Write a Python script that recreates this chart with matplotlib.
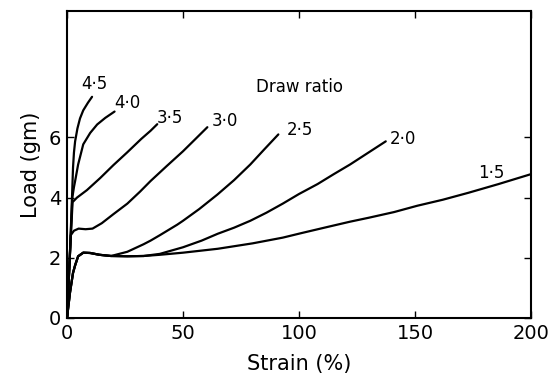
import matplotlib
matplotlib.use('Agg')
import matplotlib.pyplot as plt

# strain (%) and load (gm), one pair per draw ratio
x15 = [0, 1.3, 2.6, 3.5, 4.8, 7, 10, 14, 19, 26, 33, 40, 50, 65, 80, 93, 101, 112, 122, 130, 141, 151, 162, 173, 186, 200]
y15 = [0, 0.85, 1.5, 1.75, 2.05, 2.17, 2.16, 2.1, 2.06, 2.05, 2.06, 2.1, 2.17, 2.3, 2.48, 2.67, 2.82, 3.02, 3.2, 3.33, 3.52, 3.73, 3.93, 4.16, 4.45, 4.78]

x20 = [0, 1.3, 2.6, 3.5, 4.8, 7, 10, 14, 19, 26, 33, 40, 50, 58, 65, 72, 79, 86, 93, 100, 108, 115, 122, 130, 137.4]
y20 = [0, 0.85, 1.5, 1.75, 2.05, 2.17, 2.16, 2.1, 2.06, 2.05, 2.06, 2.13, 2.35, 2.57, 2.8, 3.0, 3.23, 3.5, 3.8, 4.12, 4.45, 4.78, 5.1, 5.5, 5.87]

x25 = [0, 1.3, 2.6, 3.5, 4.8, 7, 10, 14, 19, 26, 33, 36, 40, 47.5, 50, 57, 64.8, 72, 79, 85, 91.1]
y25 = [0, 0.85, 1.5, 1.75, 2.05, 2.17, 2.16, 2.1, 2.06, 2.2, 2.45, 2.57, 2.75, 3.1, 3.23, 3.62, 4.1, 4.58, 5.1, 5.6, 6.1]

x30 = [0, 1.0, 1.6, 3, 5, 8, 11, 15, 20, 26, 31.5, 36, 43, 50, 55, 60.5]
y30 = [0, 1.7, 2.75, 2.9, 2.97, 2.95, 2.97, 3.15, 3.45, 3.8, 4.2, 4.55, 5.05, 5.54, 5.92, 6.34]

x35 = [0, 1.2, 2.4, 4.3, 8.6, 14.3, 20, 25.9, 32, 36, 38.9]
y35 = [0, 2.0, 3.85, 4.0, 4.25, 4.65, 5.08, 5.5, 5.95, 6.22, 6.44]

x40 = [0, 1.2, 2.3, 3.0, 3.5, 4.8, 7, 10, 13, 16.5, 20.5]
y40 = [0, 2.0, 4.0, 4.35, 4.55, 5.1, 5.77, 6.15, 6.43, 6.65, 6.86]

x45 = [0, 1.2, 2.2, 2.6, 3.0, 3.5, 4.5, 5.6, 7, 9, 10.8]
y45 = [0, 2.0, 4.1, 5.0, 5.5, 5.87, 6.3, 6.63, 6.9, 7.15, 7.35]

ratio_labels = ['1·5', '2·0', '2·5', '3·0', '3·5', '4·0', '4·5']
label_x = [183, 144.7, 100.2, 68.2, 44.5, 25.9, 11.7]
label_y = [4.82, 5.94, 6.24, 6.53, 6.63, 7.13, 7.76]

xticks = [0, 50, 100, 150, 200]
yticks = [0, 2, 4, 6]

fig = plt.figure(figsize=(5.56, 3.81), dpi=100)
ax = fig.add_axes([0.1205, 0.1654, 0.8345, 0.8056])

curves = [(x15, y15), (x20, y20), (x25, y25), (x30, y30), (x35, y35), (x40, y40), (x45, y45)]
for xs, ys in curves:
    ax.plot(xs, ys, color='black', lw=1.6, solid_capstyle='round', solid_joinstyle='round')

for t, lx, ly in zip(ratio_labels, label_x, label_y):
    ax.text(lx, ly, t, fontsize=12, ha='center', va='center')
ax.text(100.2, 7.66, 'Draw ratio', fontsize=12, ha='center', va='center')

ax.set_xlim(0, 200)
ax.set_ylim(0, 10.2)
ax.set_xticks(xticks)
ax.set_yticks(yticks)
ax.tick_params(direction='in', length=5, width=1, labelsize=14,
               top=True, right=True, pad=4)
for s in ax.spines.values():
    s.set_linewidth(1.5)

ax.set_xlabel('Strain (%)', fontsize=15, labelpad=8)
ax.set_ylabel('Load (gm)', fontsize=15, labelpad=6)

fig.savefig('out.png', dpi=100)
